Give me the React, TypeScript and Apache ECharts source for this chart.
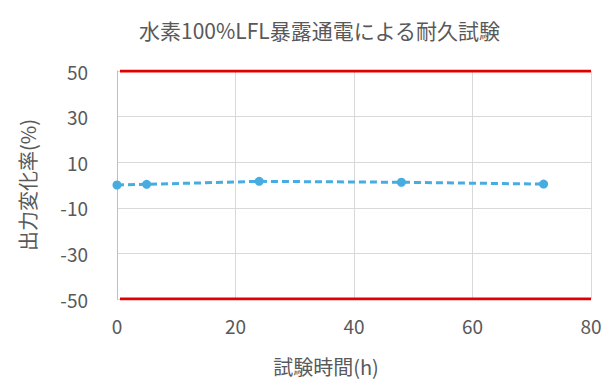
import React, { useEffect, useRef } from "react";
import * as echarts from "echarts";

const hours = [0, 5, 24, 48, 72];
const changeRate = [0, 0.3, 1.6, 1.2, 0.4];
const upperLimit = [[0.5, 50], [80, 50]];
const lowerLimit = [[0.5, -50], [80, -50]];
const titleText = "水素100%LFL暴露通電による耐久試験";
const xName = "試験時間(h)";
const yName = "出力変化率(%)";

export default function App() {
  const ref = useRef<HTMLDivElement>(null);
  useEffect(() => {
    if (!ref.current) return;
    const chart = echarts.init(ref.current, null, { renderer: "svg" });
    const font = '"Noto Sans CJK JP", "Noto Sans", sans-serif';
    chart.setOption({
      animation: false,
      backgroundColor: "#ffffff",
      title: {
        text: titleText,
        left: 139,
        top: 19,
        padding: 0,
        textStyle: { fontFamily: font, fontSize: 21, fontWeight: "normal", color: "#595959" },
      },
      grid: { left: 117, right: 20, top: 71, bottom: 82 },
      xAxis: {
        type: "value",
        min: 0,
        max: 80,
        interval: 20,
        name: xName,
        nameLocation: "middle",
        nameGap: 57,
        nameTextStyle: { fontFamily: font, fontSize: 20, color: "#595959", padding: [0, 56, 0, 0] },
        axisLine: { show: false },
        axisTick: { show: false },
        axisLabel: { fontFamily: font, fontSize: 19, color: "#595959", margin: 17 },
        splitLine: { show: true, lineStyle: { color: "#d9d9d9", width: 1 } },
      },
      yAxis: {
        type: "value",
        min: -50,
        max: 50,
        interval: 20,
        name: yName,
        nameLocation: "middle",
        nameGap: 80,
        nameTextStyle: { fontFamily: font, fontSize: 20, color: "#595959" },
        axisLine: { show: true, onZero: false, lineStyle: { color: "#bfbfbf", width: 1 } },
        axisTick: { show: false },
        axisLabel: { fontFamily: font, fontSize: 19, color: "#595959", margin: 29 },
        splitLine: { show: true, lineStyle: { color: "#d9d9d9", width: 1 } },
      },
      series: [
        {
          type: "line",
          data: upperLimit,
          symbol: "none",
          lineStyle: { color: "#e00000", width: 3 },
          silent: true,
        },
        {
          type: "line",
          data: lowerLimit,
          symbol: "none",
          lineStyle: { color: "#e00000", width: 3 },
          silent: true,
        },
        {
          type: "line",
          data: hours.map((h, i) => [h, changeRate[i]]),
          symbol: "circle",
          symbolSize: 9,
          itemStyle: { color: "#47ace0" },
          lineStyle: { color: "#47ace0", width: 3, type: [7, 4] },
        },
      ],
    });
    return () => chart.dispose();
  }, []);
  return <div ref={ref} style={{ width: 611, height: 381, position: "absolute", left: 0, top: 0 }} />;
}
